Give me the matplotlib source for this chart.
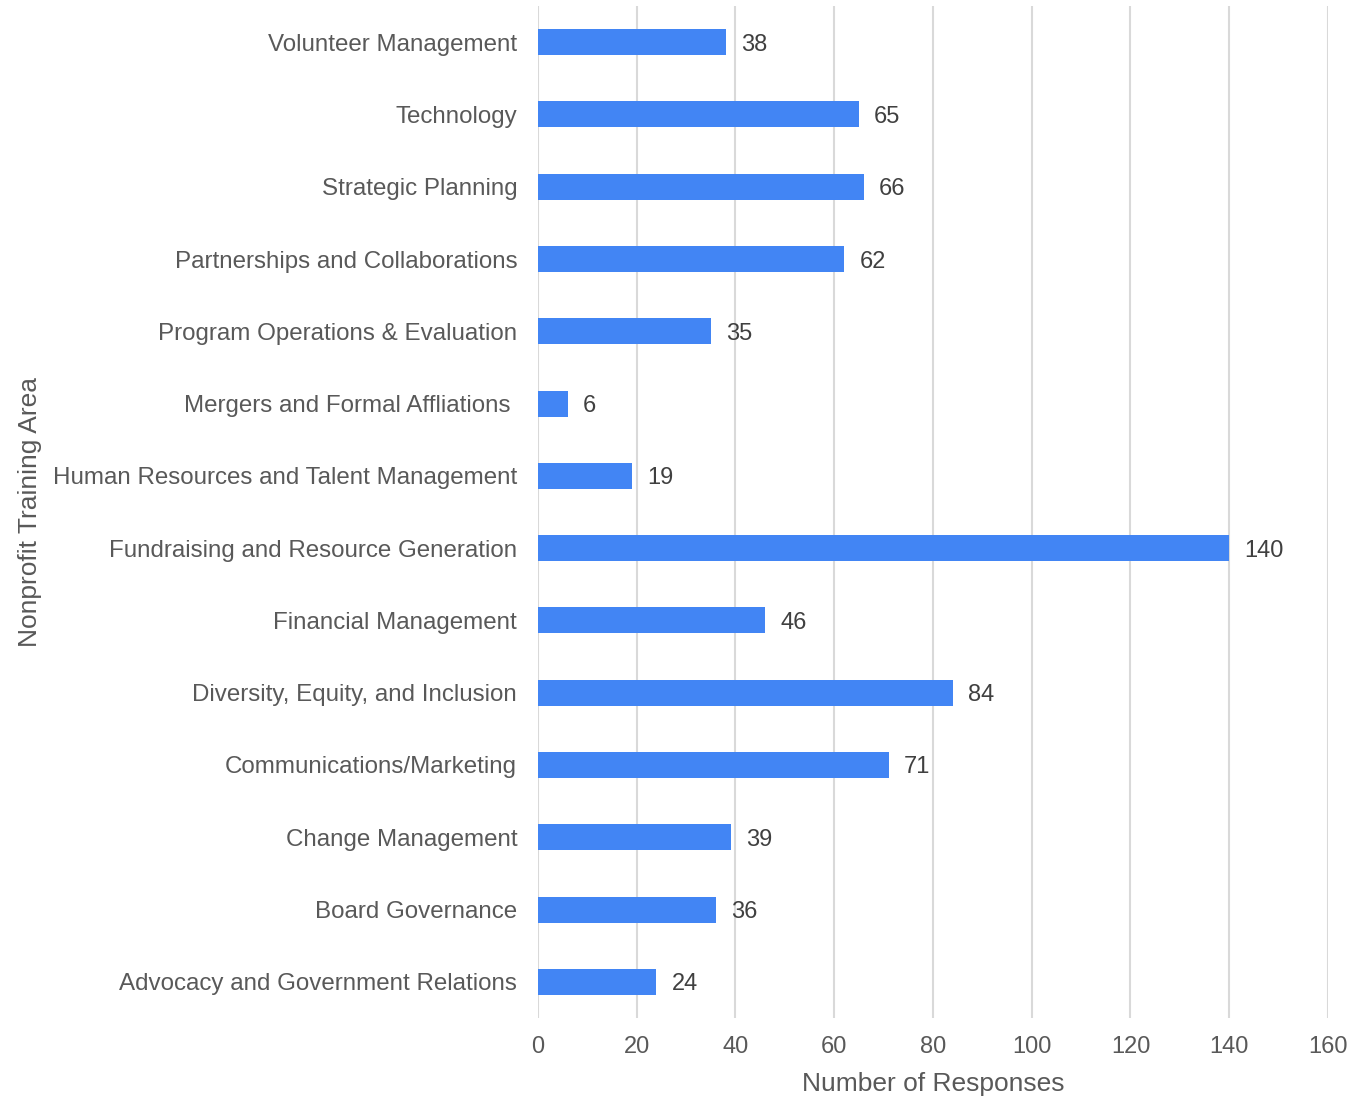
import matplotlib
matplotlib.use("Agg")
import matplotlib.pyplot as plt

# bottom to top, as drawn
AREAS = [
    "Advocacy and Government Relations",
    "Board Governance",
    "Change Management",
    "Communications/Marketing",
    "Diversity, Equity, and Inclusion",
    "Financial Management",
    "Fundraising and Resource Generation",
    "Human Resources and Talent Management",
    "Mergers and Formal Affliations ",
    "Program Operations & Evaluation",
    "Partnerships and Collaborations",
    "Strategic Planning",
    "Technology",
    "Volunteer Management",
]
RESPONSES = [24, 36, 39, 71, 84, 46, 140, 19, 6, 35, 62, 66, 65, 38]
X_TICKS = [0, 20, 40, 60, 80, 100, 120, 140, 160]

BAR = "#4285f4"
TEXT = "#595959"
GRID = "#d9d9d9"

plt.rcParams["font.family"] = ["Liberation Sans", "DejaVu Sans"]

fig = plt.figure(figsize=(13.7, 10.98), dpi=100)
ax = fig.add_axes([0.3927, 0.0729, 0.5766, 0.9216])

ypos = list(range(len(AREAS)))
ax.barh(ypos, RESPONSES, height=0.36, color=BAR, zorder=3)

for y, v in zip(ypos, RESPONSES):
    ax.annotate(str(v), xy=(v, y), xytext=(11, 0), textcoords="offset points",
                ha="left", va="center_baseline", fontsize=17, color="#404040")

ax.set_xlim(0, 160)
ax.set_ylim(-0.5, len(AREAS) - 0.5)
ax.set_xticks(X_TICKS)
ax.set_yticks(ypos)
ax.set_yticklabels(AREAS)
ax.tick_params(axis="both", length=0, labelsize=17.4, labelcolor=TEXT)
ax.tick_params(axis="x", labelsize=17)
ax.tick_params(axis="y", pad=15)
ax.tick_params(axis="x", pad=13)

ax.grid(axis="x", color=GRID, linewidth=1.5, zorder=0)
ax.set_axisbelow(True)
for spine in ax.spines.values():
    spine.set_visible(False)

ax.set_xlabel("Number of Responses", fontsize=19, color=TEXT)
ax.set_ylabel("Nonprofit Training Area", fontsize=19, color=TEXT)
ax.xaxis.set_label_coords(0.5, -0.053)
ax.yaxis.set_label_coords(-0.628, 0.5)

fig.savefig("out.png", dpi=100)
